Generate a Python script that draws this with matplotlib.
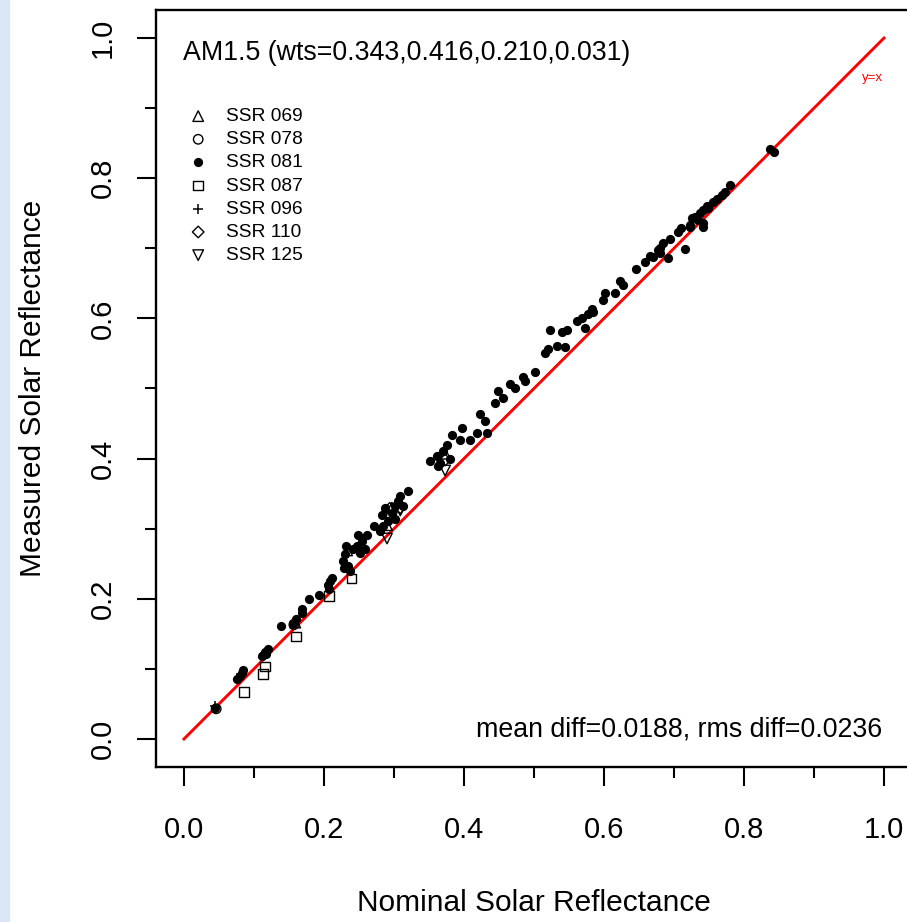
import matplotlib
matplotlib.use("Agg")
import matplotlib.pyplot as plt
from matplotlib.patches import Rectangle

plt.rcParams['font.family'] = ['Liberation Sans', 'DejaVu Sans']

# ---------------- data ----------------
ssr081_x = [0.044, 0.076, 0.080, 0.084, 0.083, 0.111, 0.116, 0.120, 0.117, 0.139,
            0.156, 0.160, 0.169, 0.169, 0.179, 0.193, 0.206, 0.209, 0.211, 0.207,
            0.227, 0.230, 0.231, 0.234, 0.237, 0.241, 0.229, 0.249, 0.261, 0.247,
            0.254, 0.259, 0.251, 0.271, 0.283, 0.287, 0.280, 0.291, 0.297, 0.301,
            0.306, 0.309, 0.320, 0.284, 0.301, 0.313,
            0.351, 0.361, 0.366, 0.370, 0.376, 0.363, 0.380, 0.383, 0.394, 0.397,
            0.409, 0.419, 0.423, 0.430, 0.433, 0.444, 0.449, 0.456, 0.466, 0.473,
            0.487, 0.484, 0.501, 0.516, 0.520, 0.533, 0.544, 0.523, 0.540, 0.547,
            0.561, 0.569, 0.573, 0.577, 0.584, 0.599, 0.601, 0.616, 0.623, 0.627,
            0.646, 0.659, 0.666, 0.670, 0.677, 0.680, 0.680, 0.691, 0.684, 0.694,
            0.706, 0.710, 0.716, 0.723, 0.726, 0.730, 0.737, 0.741, 0.747, 0.749,
            0.741, 0.741, 0.734, 0.756, 0.761, 0.769, 0.773, 0.780, 0.723, 0.837,
            0.843, 0.583]
ssr081_y = [0.044, 0.086, 0.090, 0.099, 0.094, 0.119, 0.124, 0.129, 0.121, 0.161,
            0.166, 0.171, 0.186, 0.179, 0.199, 0.206, 0.219, 0.226, 0.230, 0.214,
            0.254, 0.264, 0.276, 0.247, 0.240, 0.271, 0.244, 0.291, 0.291, 0.276,
            0.283, 0.271, 0.266, 0.304, 0.319, 0.329, 0.297, 0.311, 0.323, 0.333,
            0.340, 0.347, 0.354, 0.304, 0.314, 0.333,
            0.397, 0.404, 0.394, 0.411, 0.419, 0.390, 0.400, 0.433, 0.426, 0.443,
            0.427, 0.437, 0.463, 0.454, 0.436, 0.480, 0.497, 0.487, 0.507, 0.500,
            0.511, 0.517, 0.523, 0.550, 0.557, 0.561, 0.559, 0.584, 0.580, 0.584,
            0.596, 0.601, 0.586, 0.607, 0.609, 0.626, 0.636, 0.636, 0.654, 0.647,
            0.670, 0.680, 0.689, 0.687, 0.697, 0.701, 0.694, 0.686, 0.707, 0.713,
            0.723, 0.729, 0.699, 0.733, 0.743, 0.744, 0.750, 0.754, 0.761, 0.757,
            0.730, 0.736, 0.740, 0.766, 0.771, 0.776, 0.780, 0.790, 0.730, 0.841,
            0.837, 0.614]

ssr069_x = [0.159, 0.233, 0.297, 0.373, 0.290]
ssr069_y = [0.166, 0.269, 0.330, 0.407, 0.305]

ssr078_x = [0.046, 0.157, 0.296]
ssr078_y = [0.043, 0.163, 0.318]

ssr087_x = [0.086, 0.116, 0.113, 0.160, 0.207, 0.239]
ssr087_y = [0.067, 0.103, 0.093, 0.146, 0.204, 0.229]

ssr096_x = [0.044, 0.082, 0.115]
ssr096_y = [0.047, 0.092, 0.122]

ssr110_x = [0.294, 0.309, 0.373]
ssr110_y = [0.329, 0.330, 0.398]

ssr125_x = [0.290, 0.309, 0.373]
ssr125_y = [0.286, 0.326, 0.383]

series_labels = ["SSR 069", "SSR 078", "SSR 081", "SSR 087", "SSR 096", "SSR 110", "SSR 125"]
ticks = [0.0, 0.2, 0.4, 0.6, 0.8, 1.0]
minor_ticks = [0.1, 0.3, 0.5, 0.7, 0.9]
title_text = "AM1.5 (wts=0.343,0.416,0.210,0.031)"
stats_text = "mean diff=0.0188, rms diff=0.0236"

# ---------------- figure ----------------
W, H = 907, 922
fig = plt.figure(figsize=(W / 100, H / 100), dpi=100)
fig.patches.append(Rectangle((0, 0), 9 / W, 1, transform=fig.transFigure,
                             color="#dbe7f6", zorder=0))
ax = fig.add_axes([156 / W, 1 - 767 / H, (912 - 156) / W, (767 - 10) / H])
ax.set_xlim(-0.04, 1.04)
ax.set_ylim(-0.04, 1.04)

ax.plot([0, 1], [0, 1], color="red", lw=2.1, zorder=1)
ax.text(0.983, 0.943, "y=x", color="red", fontsize=9.5, ha="center", va="center")

ms_open = 58
ms_dot = 44
kw_open = dict(facecolors="none", edgecolors="black", linewidths=1.0, zorder=3)
ax.scatter(ssr069_x, ssr069_y, marker="^", s=ms_open, label=series_labels[0], **kw_open)
ax.scatter(ssr078_x, ssr078_y, marker="o", s=ms_open * 0.8, label=series_labels[1], **kw_open)
ax.scatter(ssr081_x, ssr081_y, marker="o", s=ms_dot, color="black", linewidths=0,
           label=series_labels[2], zorder=2)
ax.scatter(ssr087_x, ssr087_y, marker="s", s=ms_open * 0.8, label=series_labels[3], **kw_open)
ax.scatter(ssr096_x, ssr096_y, marker="+", s=ms_open, color="black", linewidths=1.1,
           label=series_labels[4], zorder=3)
ax.scatter(ssr110_x, ssr110_y, marker="D", s=ms_open * 0.6, label=series_labels[5], **kw_open)
ax.scatter(ssr125_x, ssr125_y, marker="v", s=ms_open, label=series_labels[6], **kw_open)

ax.legend(loc="upper left", bbox_to_anchor=(0.033, 0.881), frameon=False,
          fontsize=13.8, handletextpad=0.95, labelspacing=0.30,
          borderaxespad=0, handlelength=1.0, scatterpoints=1, markerscale=1.0)

ax.text(-0.0015, 0.979, title_text, fontsize=19.3, ha="left", va="center")
ax.text(0.997, 0.013, stats_text, fontsize=19.3, ha="right", va="center")

ax.set_xticks(ticks)
ax.set_yticks(ticks)
ax.set_xticks(minor_ticks, minor=True)
ax.set_yticks(minor_ticks, minor=True)
ax.set_xticklabels([f"{t:.1f}" for t in ticks])
ax.set_yticklabels([f"{t:.1f}" for t in ticks], rotation=90, va="center")
ax.tick_params(which="major", length=14, width=1.5, labelsize=21, pad=14)
ax.tick_params(which="minor", length=8, width=1.5)
ax.tick_params(axis="x", which="major", pad=21)
for s in ax.spines.values():
    s.set_linewidth(1.7)

ax.set_xlabel("Nominal Solar Reflectance", fontsize=21.5, labelpad=33)
ax.set_ylabel("Measured Solar Reflectance", fontsize=21.5, labelpad=30)

fig.savefig("out.png", dpi=100)
